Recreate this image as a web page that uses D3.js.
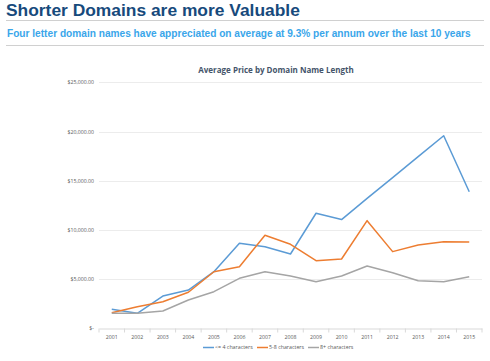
<!DOCTYPE html>
<html><head><meta charset="utf-8">
<script src="https://cdn.jsdelivr.net/npm/d3@7"></script>
<style>body{margin:0;background:#fff}svg{display:block}</style>
</head><body>
<script>
const years = ["2001","2002","2003","2004","2005","2006","2007","2008","2009","2010","2011","2012","2013","2014","2015"];
const short4 = [1930,1520,3280,3890,5750,8640,8290,7550,11690,11050,13200,15320,17450,19570,13880];
const mid58 = [1590,2200,2700,3660,5750,6260,9450,8540,6870,7040,10940,7790,8470,8800,8770];
const long8 = [1520,1520,1760,2880,3720,5080,5750,5320,4740,5320,6330,5650,4840,4740,5250];
const yTicks = [0,5000,10000,15000,20000,25000];
const seriesNames = ["<= 4 characters","5-8 characters","8+ characters"];
const colors = ["#5b9bd5","#ed7d31","#a5a5a5"];
const series = [short4, mid58, long8];

const W=490,H=361;
const svg=d3.select("body").append("svg").attr("width",W).attr("height",H);

svg.append("text").attr("x",6).attr("y",15.5).text("Shorter Domains are more Valuable")
  .attr("font-family","Liberation Sans, Arial, sans-serif").attr("font-weight","bold")
  .attr("font-size",17.4).attr("fill","#174a7c");
svg.append("line").attr("x1",6).attr("x2",484).attr("y1",20.5).attr("y2",20.5).attr("stroke","#d0d0d0").attr("stroke-width",1);
svg.append("text").attr("x",7).attr("y",37).text("Four letter domain names have appreciated on average at 9.3% per annum over the last 10 years")
  .attr("font-family","Liberation Sans, Arial, sans-serif").attr("font-weight","bold")
  .attr("font-size",10.15).attr("fill","#3aa6ea");
svg.append("line").attr("x1",6).attr("x2",484).attr("y1",45.5).attr("y2",45.5).attr("stroke","#d0d0d0").attr("stroke-width",1);

const x=d3.scaleBand().domain(years).range([99,482]);
const y=d3.scaleLinear().domain([0,25000]).range([328.3,82.3]);

svg.append("text").attr("x",276).attr("y",72.5).attr("text-anchor","middle").text("Average Price by Domain Name Length")
  .attr("font-family","Open Sans, sans-serif").attr("font-weight","bold").attr("font-size",8).attr("fill","#44546a");

// gridlines
svg.append("g").selectAll("line").data(yTicks.filter(d=>d>0)).join("line")
  .attr("x1",99).attr("x2",482).attr("y1",d=>Math.round(y(d))+0.5).attr("y2",d=>Math.round(y(d))+0.5)
  .attr("stroke","#ececec").attr("stroke-width",1);

const fmt=d=>d===0?"$-":"$"+d3.format(",.2f")(d);
const ya=svg.append("g").attr("transform","translate(94,0)")
  .call(d3.axisLeft(y).tickValues(yTicks).tickFormat(fmt).tickSize(0).tickPadding(0));
ya.select(".domain").remove();
ya.selectAll("text").attr("font-family","Open Sans, sans-serif").attr("font-size",5.2).attr("fill","#595959");

const xa=svg.append("g").attr("transform","translate(0,"+(Math.round(y(0))+0.5)+")")
  .call(d3.axisBottom(x).tickSize(0).tickPadding(7));
xa.select(".domain").attr("stroke","#d9d9d9");
xa.selectAll("text").attr("font-family","Open Sans, sans-serif").attr("font-size",5.2).attr("fill","#595959");
xa.selectAll(".bnd").data(years.concat(["end"])).join("line").attr("class","bnd")
  .attr("x1",(d,i)=>i<years.length?x(d):x.range()[1]).attr("x2",(d,i)=>i<years.length?x(d):x.range()[1])
  .attr("y1",0).attr("y2",4).attr("stroke","#d9d9d9");

const line=d3.line().x((d,i)=>x(years[i])+x.bandwidth()/2).y(d=>y(d));
series.forEach((s,k)=>{
  svg.append("path").datum(s).attr("d",line).attr("fill","none")
    .attr("stroke",colors[k]).attr("stroke-width",1.5).attr("stroke-linejoin","round");
});

// legend
const lx=[203,257,308];
const lg=svg.append("g");
seriesNames.forEach((n,k)=>{
  lg.append("line").attr("x1",lx[k]).attr("x2",lx[k]+11).attr("y1",347.5).attr("y2",347.5)
    .attr("stroke",colors[k]).attr("stroke-width",1.5);
  lg.append("text").attr("x",lx[k]+12).attr("y",349.3).text(n)
    .attr("font-family","Open Sans, sans-serif").attr("font-size",5.3).attr("fill","#595959");
});
</script>
</body></html>
